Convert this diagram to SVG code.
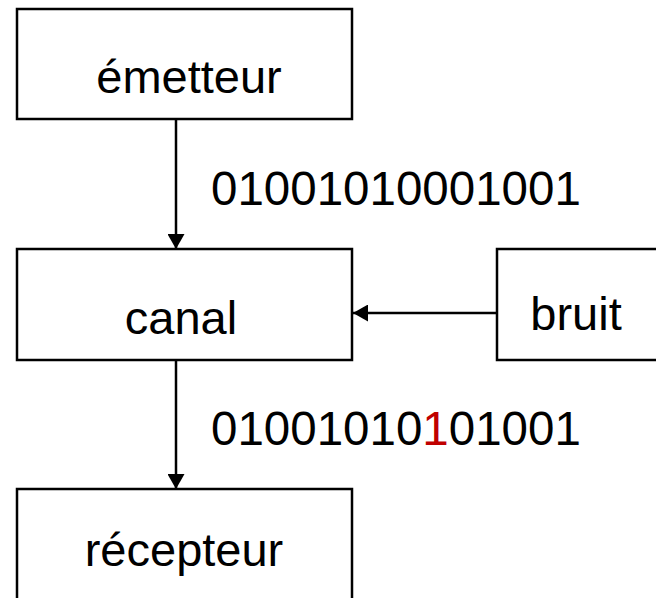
<svg xmlns="http://www.w3.org/2000/svg" width="656" height="598" viewBox="0 0 656 598">
<style>
.box{fill:#fff;stroke:#000;stroke-width:2.5}
.lbl{font-family:"Liberation Sans",Arial,sans-serif;font-size:47px;fill:#000;text-anchor:middle}
.bits{font-family:"Liberation Sans",Arial,sans-serif;font-size:47.5px;fill:#000}
.wire{stroke:#000;stroke-width:2.5;fill:none;marker-end:url(#ah)}
</style>
<defs>
<marker id="ah" markerUnits="userSpaceOnUse" markerWidth="16" markerHeight="17" refX="15" refY="8.5" orient="auto">
<path d="M0,0 L15,8.5 L0,17 Z" fill="#000"/>
</marker>
</defs>
<g id="emetteur"><rect class="box" x="17" y="9" width="335" height="110"/><text class="lbl" x="189" y="93">émetteur</text></g>
<g id="canal"><rect class="box" x="17" y="249" width="335" height="111"/><text class="lbl" x="181" y="334">canal</text></g>
<g id="bruit"><rect class="box" x="497" y="249" width="170" height="111"/><text class="lbl" x="576" y="330">bruit</text></g>
<g id="recepteur"><rect class="box" x="17" y="489" width="335" height="120"/><text class="lbl" x="184" y="566">récepteur</text></g>
<g id="connectors">
<line class="wire" x1="176" y1="119" x2="176" y2="249"/>
<line class="wire" x1="176" y1="360" x2="176" y2="489"/>
<line class="wire" x1="497" y1="313" x2="353" y2="313"/>
</g>
<g id="labels">
<text class="bits" x="211" y="205">01001010001001</text>
<text class="bits" x="211" y="445">01001010<tspan fill="#c00000">1</tspan>01001</text>
</g>
</svg>
